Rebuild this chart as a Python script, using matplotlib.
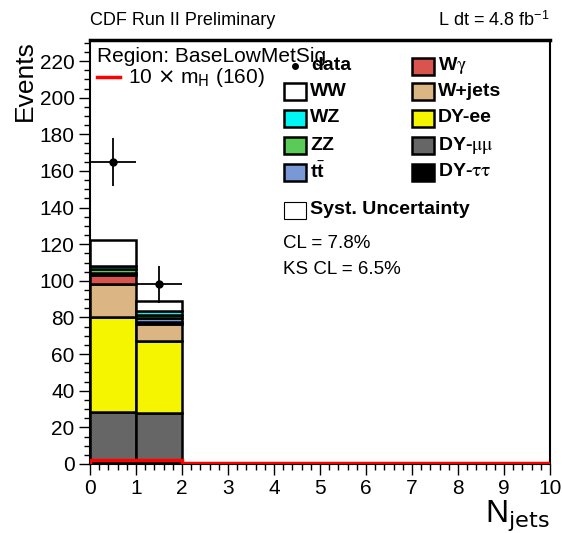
import numpy as np
import matplotlib
matplotlib.use("Agg")
import matplotlib.pyplot as plt
from matplotlib.patches import Rectangle
from matplotlib.lines import Line2D

plt.rcParams["font.family"] = ["Liberation Sans", "DejaVu Sans"]
plt.rcParams["mathtext.fontset"] = "stix"

# ---- data ----
bin_edges = np.arange(0, 11)
# stack order, bottom to top
dy_tautau = [1.5, 1.0, 0, 0, 0, 0, 0, 0, 0, 0]
dy_mumu = [27.0, 27.0, 0, 0, 0, 0, 0, 0, 0, 0]
dy_ee = [51.5, 39.0, 0, 0, 0, 0, 0, 0, 0, 0]
w_jets = [18.0, 9.5, 0, 0, 0, 0, 0, 0, 0, 0]
w_gamma = [5.0, 1.2, 0, 0, 0, 0, 0, 0, 0, 0]
ttbar = [1.5, 2.0, 0, 0, 0, 0, 0, 0, 0, 0]
zz = [2.0, 1.5, 0, 0, 0, 0, 0, 0, 0, 0]
wz = [1.5, 2.5, 0, 0, 0, 0, 0, 0, 0, 0]
ww = [14.5, 5.5, 0, 0, 0, 0, 0, 0, 0, 0]

data_counts = [165, 98, 0, 0, 0, 0, 0, 0, 0, 0]
data_errors = [13.0, 9.9, 0, 0, 0, 0, 0, 0, 0, 0]
signal_x10 = [2.4, 1.9, 0.3, 0.3, 0.3, 0.3, 0.3, 0.3, 0.3, 0.3]

stack_names = ["DY-tautau", "DY-mumu", "DY-ee", "W+jets", "Wgamma", "ttbar", "ZZ", "WZ", "WW"]
stack_values = [dy_tautau, dy_mumu, dy_ee, w_jets, w_gamma, ttbar, zz, wz, ww]
stack_colors = ["#000000", "#666666", "#f5f500", "#dbb684", "#d9534f",
                "#7a97d6", "#5acb56", "#00f5f5", "#ffffff"]

fig = plt.figure(figsize=(5.62, 5.33), dpi=100)
ax = fig.add_axes([0.160, 0.1295, 0.8186, 0.7955])

bottom = np.zeros(len(bin_edges) - 1)
for vals, col in zip(stack_values, stack_colors):
    vals = np.asarray(vals, dtype=float)
    ax.bar(bin_edges[:-1], vals, width=1.0, bottom=bottom, align="edge",
           color=col, edgecolor="black", linewidth=1.8, zorder=2)
    bottom += vals

ax.stairs(signal_x10, bin_edges, color="red", linewidth=2.5, zorder=3)

centers = 0.5 * (bin_edges[:-1] + bin_edges[1:])
dc = np.asarray(data_counts, dtype=float)
de = np.asarray(data_errors, dtype=float)
m = dc > 0
ax.errorbar(centers[m], dc[m], yerr=de[m], xerr=0.5, fmt="o", color="black",
            markersize=5, elinewidth=1.3, capsize=0, zorder=4)

ax.set_xlim(0, 10)
ax.set_ylim(0, 231.5)
ax.set_xticks(np.arange(0, 11, 1))
ax.set_xticks(np.arange(0, 10.01, 0.2), minor=True)
ax.set_yticks(np.arange(0, 221, 20))
ax.set_yticks(np.arange(0, 231, 5), minor=True)
ax.tick_params(axis="both", which="major", direction="out", length=8, width=1,
               labelsize=15, pad=3)
ax.tick_params(axis="both", which="minor", direction="out", length=4, width=1)
for s in ax.spines.values():
    s.set_linewidth(1.5)
ax.spines["top"].set_linewidth(2.5)

# axis titles, ROOT style placement
fig.text(0.045, 0.925, "Events", rotation=90, ha="center", va="top", fontsize=19)
fig.text(0.978, 0.0, r"N$_{\rm jets}$", ha="right", va="bottom", fontsize=23,
         math_fontfamily="dejavusans")

# header
fig.text(0.160, 0.962, "CDF Run II Preliminary", ha="left", va="center", fontsize=13)
fig.text(0.978, 0.962, r"L dt = 4.8 fb$^{\mathregular{-1}}$", ha="right", va="center", fontsize=13)

# region label and signal entry
ax.text(0.016, 0.960, "Region: BaseLowMetSig", transform=ax.transAxes,
        ha="left", va="center", fontsize=15)
ax.add_line(Line2D([0.016, 0.065], [0.912, 0.912], transform=ax.transAxes,
                   color="red", linewidth=2.5))
ax.text(0.082, 0.912, r"10 $\times$ m$_{\rm H}$ (160)", transform=ax.transAxes,
        ha="left", va="center", fontsize=15, math_fontfamily="dejavusans")

# legend (manual, ROOT TLegend style)
fig_w, fig_h = 562, 533


def fx(px):
    return px / fig_w


def fy(py):
    return 1 - py / fig_h


box_w, box_h = 22, 17
col1_x, col2_x = 284, 412
row_y = [66, 91, 118, 145, 172]

legend_col1 = [("WW", "#ffffff"), ("WZ", "#00f5f5"), ("ZZ", "#5acb56"),
               (r"t$\bar{\mathregular{t}}$", "#7a97d6")]
legend_col2 = [(r"W$\mathrm{\gamma}$", "#d9534f"), ("W+jets", "#dbb684"),
               ("DY-ee", "#f5f500"), (r"DY-$\mathrm{\mu\mu}$", "#666666"),
               (r"DY-$\mathrm{\tau\tau}$", "#000000")]

# data entry
fig.add_artist(Line2D([fx(col1_x + box_w / 2)], [fy(row_y[0])], marker="o",
                      color="black", markersize=4))
fig.text(fx(col1_x + box_w + 5), fy(row_y[0]), "data", fontsize=14, fontweight="bold",
         ha="left", va="center")

for (lab, col), yy in zip(legend_col1, row_y[1:]):
    fig.add_artist(Rectangle((fx(col1_x), fy(yy + box_h / 2)), box_w / fig_w, box_h / fig_h,
                             facecolor=col, edgecolor="black", linewidth=1.8))
    fig.text(fx(col1_x + box_w + 4), fy(yy), lab, fontsize=14, fontweight="bold",
             ha="left", va="center")

for (lab, col), yy in zip(legend_col2, row_y):
    fig.add_artist(Rectangle((fx(col2_x), fy(yy + box_h / 2)), box_w / fig_w, box_h / fig_h,
                             facecolor=col, edgecolor="black", linewidth=1.8))
    fig.text(fx(col2_x + box_w + 4), fy(yy), lab, fontsize=14, fontweight="bold",
             ha="left", va="center")

fig.add_artist(Rectangle((fx(col1_x), fy(210 + box_h / 2)), box_w / fig_w, box_h / fig_h,
                         facecolor="white", edgecolor="black", linewidth=0.8))
fig.text(fx(col1_x + box_w + 4), fy(210), "Syst. Uncertainty", fontsize=14,
         fontweight="bold", ha="left", va="center")

fig.text(fx(283), fy(243), "CL = 7.8%", fontsize=13.5, ha="left", va="center")
fig.text(fx(283), fy(270), "KS CL = 6.5%", fontsize=13.5, ha="left", va="center")

fig.savefig("out.png", dpi=100)
